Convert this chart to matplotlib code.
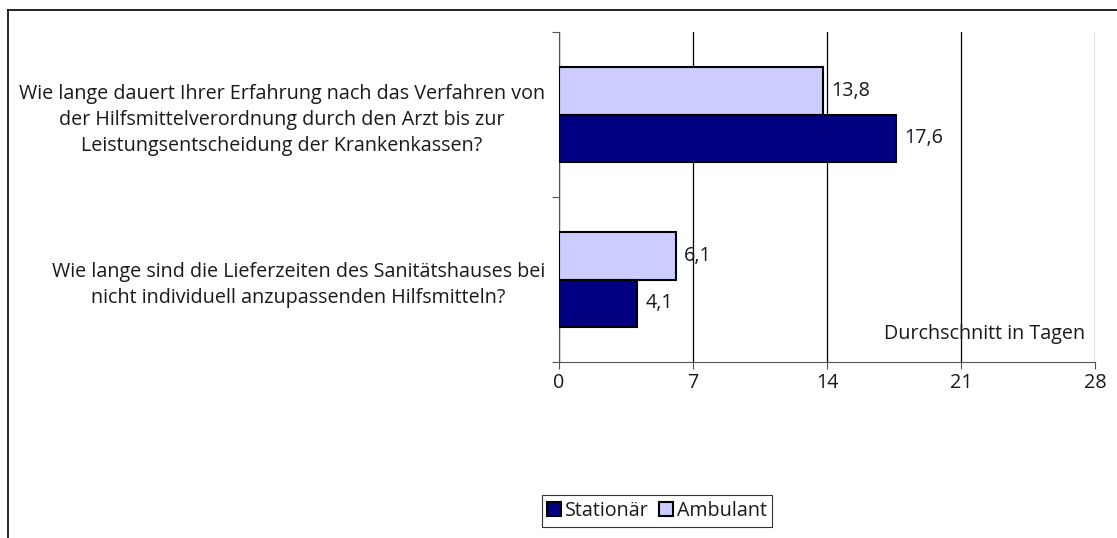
import matplotlib
matplotlib.use('Agg')
import matplotlib.pyplot as plt
from matplotlib.lines import Line2D
import numpy as np

plt.rcParams['font.family'] = ['Open Sans', 'DejaVu Sans']

# Data
questions = [
    "Wie lange dauert Ihrer Erfahrung nach das Verfahren von\n"
    "der Hilfsmittelverordnung durch den Arzt bis zur\n"
    "Leistungsentscheidung der Krankenkassen?",
    "Wie lange sind die Lieferzeiten des Sanitätshauses bei\n"
    "nicht individuell anzupassenden Hilfsmitteln?",
]
stationaer = [17.6, 4.1]
ambulant = [13.8, 6.1]
x_ticks = [0, 7, 14, 21, 28]

FS = 14.2
TXT = '#1a1a1a'

fig = plt.figure(figsize=(11.17, 5.38), dpi=100)
ax = fig.add_axes([559 / 1117, 1 - 362 / 538, (1095 - 559) / 1117, (362 - 32) / 538])

y = np.arange(len(questions))
h = 0.285
bars_a = ax.barh(y - h / 2, ambulant, height=h, color='#CCCCFF',
                 edgecolor='black', linewidth=1.5, label='Ambulant', zorder=3)
bars_s = ax.barh(y + h / 2, stationaer, height=h, color='#000080',
                 edgecolor='black', linewidth=1.5, label='Stationär', zorder=3)

for bars, vals in [(bars_a, ambulant), (bars_s, stationaer)]:
    for b, v in zip(bars, vals):
        ax.annotate(f"{v:.1f}".replace('.', ','),
                    (v, b.get_y() + b.get_height() / 2),
                    xytext=(6, 0), textcoords='offset points',
                    va='center', ha='left', fontsize=FS, color=TXT)

ax.set_xlim(0, 28)
ax.set_ylim(1.5, -0.5)
ax.set_xticks(x_ticks)
ax.set_xticklabels([str(t) for t in x_ticks], fontsize=FS, color=TXT)
ax.xaxis.grid(True, color='black', linewidth=0.9, zorder=0)

# category boundary ticks on the y axis, labels between
ax.set_yticks([-0.5, 0.5, 1.5])
ax.set_yticklabels([])
ax.set_yticks(y, minor=True)
ax.set_yticklabels(questions, minor=True, fontsize=FS, color=TXT,
                   multialignment='center', linespacing=1.4)
ax.tick_params(axis='y', which='minor', length=0, pad=10)
ax.tick_params(axis='y', which='major', length=5, direction='out', color='#555555')
ax.tick_params(axis='x', length=5, direction='out', color='#555555', pad=3)

for side in ['top', 'right']:
    ax.spines[side].set_visible(False)
ax.spines['left'].set_color('#555555')
ax.spines['bottom'].set_color('#555555')

ax.text(0.981, 0.085, 'Durchschnitt in Tagen', transform=ax.transAxes,
        ha='right', va='center', fontsize=FS, color=TXT)

handles = [bars_s, bars_a]
leg = fig.legend(handles, ['Stationär', 'Ambulant'], loc='center',
                 bbox_to_anchor=(657 / 1117, 1 - 511 / 538), ncol=2,
                 fontsize=FS, frameon=True, fancybox=False, edgecolor='black',
                 handlelength=0.7, handleheight=0.7, handletextpad=0.2,
                 columnspacing=0.5, borderpad=0.3, borderaxespad=0)
leg.get_frame().set_linewidth(0.8)
for t in leg.get_texts():
    t.set_color(TXT)

# outer frame (top and left only)
fig.add_artist(Line2D([8 / 1117, 8 / 1117], [0, 1 - 10 / 538], color='black', linewidth=1.2))
fig.add_artist(Line2D([8 / 1117, 1], [1 - 10 / 538, 1 - 10 / 538], color='black', linewidth=1.2))

fig.savefig('out.png', dpi=100)
